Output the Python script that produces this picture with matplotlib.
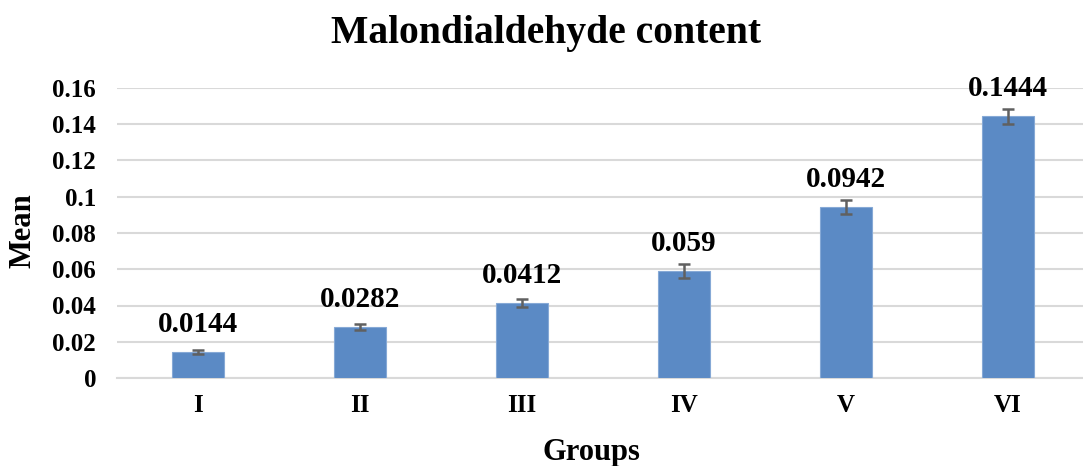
import matplotlib.pyplot as plt
import numpy as np

groups = ["I", "II", "III", "IV", "V", "VI"]
means = [0.0144, 0.0282, 0.0412, 0.059, 0.0942, 0.1444]
errors = [0.0012, 0.0016, 0.0022, 0.0038, 0.0039, 0.0040]
labels = ["0.0144", "0.0282", "0.0412", "0.059", "0.0942", "0.1444"]
yticks = [0, 0.02, 0.04, 0.06, 0.08, 0.1, 0.12, 0.14, 0.16]
ytick_labels = ["0", "0.02", "0.04", "0.06", "0.08", "0.1", "0.12", "0.14", "0.16"]

plt.rcParams['font.family'] = ['Liberation Serif', 'DejaVu Serif']

W, H = 1083, 466
fig = plt.figure(figsize=(W / 100, H / 100), dpi=100)
left_px, right_px, top_px, bot_px = 117, 1083, 88, 378
ax = fig.add_axes([left_px / W, 1 - bot_px / H, (right_px - left_px) / W, (bot_px - top_px) / H])

x = np.arange(len(groups))
ax.bar(x, means, width=0.315, color="#5B8AC5", edgecolor="#86A9D6", linewidth=0.8, zorder=3,
       yerr=errors, error_kw=dict(ecolor="#606060", elinewidth=1.8, capsize=4.5, capthick=1.8, zorder=4))

for xi, m, lab in zip(x, means, labels):
    ax.annotate(lab, (xi, m), xytext=(0, 14.5), textcoords="offset points",
                ha="center", va="baseline", fontsize=21, fontweight="bold")

ax.set_xlim(-0.5, 5.5 - 6 / 162)
ax.set_ylim(0, 0.16)
ax.set_yticks(yticks)
ax.set_yticklabels(ytick_labels, fontsize=18, fontweight="bold")
ax.set_xticks(x)
ax.set_xticklabels(groups, fontsize=18, fontweight="bold")
ax.tick_params(axis="y", length=0, pad=15)
ax.tick_params(axis="x", length=0, pad=11.5)
ax.yaxis.grid(True, color="#D9D9D9", linewidth=1.5, zorder=0)
for s in ["top", "right", "left"]:
    ax.spines[s].set_visible(False)
ax.spines["bottom"].set_color("#D9D9D9")
ax.spines["bottom"].set_linewidth(1.5)

fig.text(23 / W, 1 - 231 / H, "Mean", rotation=90, ha="center", va="center",
         fontsize=22, fontweight="bold")
fig.text(591 / W, 1 - 460 / H, "Groups", ha="center", va="baseline",
         fontsize=22, fontweight="bold")
fig.text(546 / W, 1 - 43 / H, "Malondialdehyde content", ha="center", va="baseline",
         fontsize=28.5, fontweight="bold")

fig.savefig("out.png", dpi=100)
